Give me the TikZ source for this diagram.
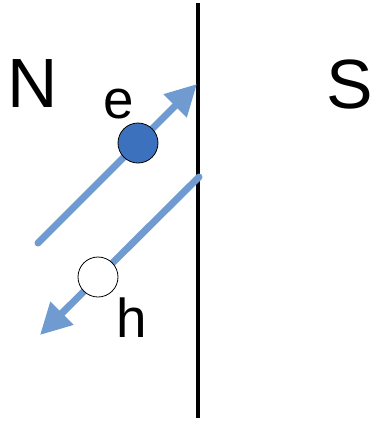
\documentclass[tikz,border=0pt]{standalone}
\usepackage{fontspec}
\setmainfont{Liberation Sans}
\usetikzlibrary{arrows.meta}
\definecolor{arrowblue}{HTML}{6F9BD1}
\definecolor{eblue}{HTML}{3C72BD}
\begin{document}
\begin{tikzpicture}[x=1bp,y=-1bp,
  carrier/.style={draw=arrowblue,line width=7bp,line cap=round,-{Triangle[length=31bp,width=31bp]}},
  particle/.style={circle,draw=black,line width=0.8bp,minimum size=40bp,inner sep=0pt},
  bigletter/.style={font=\fontsize{70}{70}\selectfont,inner sep=0pt},
  smallletter/.style={font=\fontsize{55}{55}\selectfont,inner sep=0pt}]
\useasboundingbox (0,0) rectangle (371,421);
\coordinate (top) at (198,3);
\coordinate (bot) at (198,418);
\draw[line width=4bp] (top) -- (bot);
\coordinate (a1s) at (38,243);
\coordinate (a1e) at (197,84);
\coordinate (a2s) at (199,177);
\coordinate (a2e) at (40,335);
\draw[carrier] (a1s) -- (a1e);
\draw[carrier] (a2s) -- (a2e);
\node[particle,fill=eblue] (e) at (138,143) {};
\node[particle,fill=white] (h) at (98,277) {};
\node[bigletter] (N) at (33,84) {N};
\node[bigletter] (S) at (350,84) {S};
\node[smallletter,anchor=base] (el) at (119,118) {e};
\node[smallletter,anchor=base] (hl) at (132,337) {h};
\end{tikzpicture}
\end{document}
